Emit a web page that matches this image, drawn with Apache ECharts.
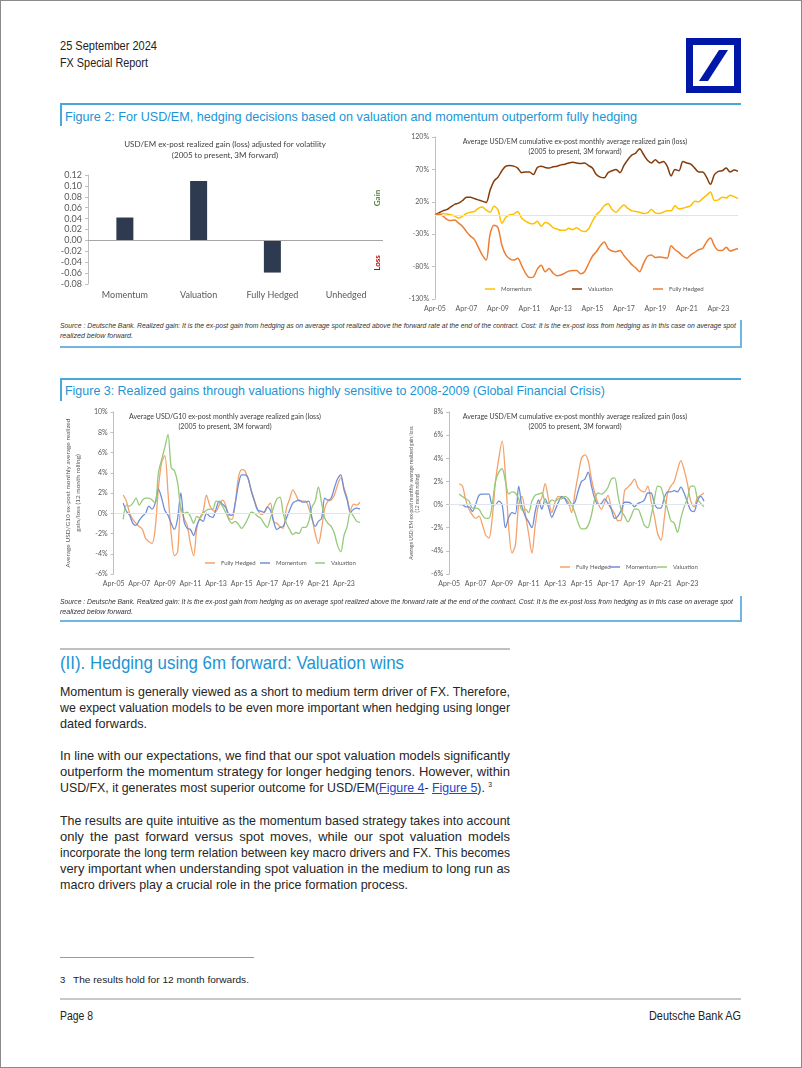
<!DOCTYPE html>
<html><head><meta charset="utf-8">
<script src="https://cdn.jsdelivr.net/npm/echarts@6.0.0/dist/echarts.min.js"></script>
<style>
html,body{margin:0;padding:0;background:#fff;}
body{width:802px;height:1068px;position:relative;overflow:hidden;font-family:"Liberation Sans",Arial,sans-serif;color:#222;}
.t{position:absolute;white-space:nowrap;transform-origin:0 50%;}
.ln{position:absolute;}
.chart{position:absolute;}
.pl{position:absolute;left:60px;white-space:nowrap;font-size:13px;line-height:16px;height:16px;color:#262626;transform-origin:0 50%;}
.lk{color:#2344c8;text-decoration:underline;}
.sup{font-size:7px;line-height:0;position:relative;top:-5px;}
</style></head><body>
<div style="position:absolute;left:0;top:0;width:802px;height:1068px;box-sizing:border-box;border:1px solid #8a8a8a;"></div>

<div class="t" data-w="97" style="left:60px;top:39px;font-size:12px;line-height:14px;">25 September 2024</div>
<div class="t" data-w="88" style="left:60px;top:56px;font-size:12px;line-height:14px;">FX Special Report</div>
<svg style="position:absolute;left:686px;top:38px" width="55" height="55" viewBox="0 0 55 55">
  <rect x="0" y="0" width="55" height="55" fill="#0018a8"/>
  <rect x="7" y="7" width="41" height="41" fill="#fff"/>
  <polygon points="13,43 22,43 42,12 33,12" fill="#0018a8"/>
</svg>

<!-- Figure 2 frame -->
<div class="ln" style="left:60px;top:103px;width:681px;height:1.5px;background:#4aa7dc;"></div>
<div class="ln" style="left:60px;top:103px;width:2px;height:23px;background:#4aa7dc;"></div>
<div class="t" data-w="572" style="left:65px;top:109px;font-size:13px;line-height:16px;color:#1b95d4;">Figure 2: For USD/EM, hedging decisions based on valuation and momentum outperform fully hedging</div>
<div id="c1" class="chart" style="left:55px;top:130px;width:340px;height:180px;"></div>
<div id="c2" class="chart" style="left:395px;top:125px;width:350px;height:195px;"></div>
<div class="t" data-w="676" style="left:60px;top:322px;font-size:7px;line-height:8px;font-style:italic;color:#333;">Source : Deutsche Bank. Realized gain: It is the ex-post gain from hedging as on average spot realized above the forward rate at the end of the contract. Cost: It is the ex-post loss from hedging as in this case on average spot</div>
<div class="t" data-w="73" style="left:60px;top:332px;font-size:7px;line-height:8px;font-style:italic;color:#333;">realized below forward.</div>
<div class="ln" style="left:60px;top:346px;width:682px;height:2px;background:#6fb7e3;"></div>
<div class="ln" style="left:740px;top:320px;width:2px;height:28px;background:#6fb7e3;"></div>

<!-- Figure 3 frame -->
<div class="ln" style="left:60px;top:378px;width:681px;height:1.5px;background:#4aa7dc;"></div>
<div class="ln" style="left:60px;top:378px;width:2px;height:23px;background:#4aa7dc;"></div>
<div class="t" data-w="540" style="left:65px;top:383px;font-size:13px;line-height:16px;color:#1b95d4;">Figure 3: Realized gains through valuations highly sensitive to 2008-2009 (Global Financial Crisis)</div>
<div id="c3" class="chart" style="left:55px;top:400px;width:340px;height:200px;"></div>
<div id="c4" class="chart" style="left:400px;top:400px;width:345px;height:200px;"></div>
<div class="t" data-w="673" style="left:60px;top:598px;font-size:7px;line-height:8px;font-style:italic;color:#333;">Source : Deutsche Bank. Realized gain: It is the ex-post gain from hedging as on average spot realized above the forward rate at the end of the contract. Cost: It is the ex-post loss from hedging as in this case on average spot</div>
<div class="t" data-w="73" style="left:60px;top:608px;font-size:7px;line-height:8px;font-style:italic;color:#333;">realized below forward.</div>
<div class="ln" style="left:60px;top:620px;width:682px;height:2px;background:#6fb7e3;"></div>
<div class="ln" style="left:740px;top:596px;width:2px;height:26px;background:#6fb7e3;"></div>

<!-- Section -->
<div class="ln" style="left:60px;top:648px;width:450px;height:2px;background:#c0c0c0;"></div>
<div class="t" data-w="344" style="left:60px;top:651px;font-size:19px;line-height:24px;color:#1b95d4;">(II). Hedging using 6m forward: Valuation wins</div>

<div class="pl" data-w="450" style="top:683.5px;">Momentum is generally viewed as a short to medium term driver of FX. Therefore,</div>
<div class="pl" data-w="450" style="top:699.6px;">we expect valuation models to be even more important when hedging using longer</div>
<div class="pl" data-w="87" style="top:715.5px;">dated forwards.</div>

<div class="pl" data-w="450" style="top:748px;">In line with our expectations, we find that our spot valuation models significantly</div>
<div class="pl" data-w="450" style="top:764px;">outperform the momentum strategy for longer hedging tenors. However, within</div>
<div class="pl" data-w="432" style="top:780px;">USD/FX, it generates most superior outcome for USD/EM(<span class="lk">Figure 4</span>- <span class="lk">Figure 5</span>). <span class="sup">3</span></div>

<div class="pl" data-w="450" style="top:812.5px;">The results are quite intuitive as the momentum based strategy takes into account</div>
<div class="pl" data-w="450" style="top:828.7px;">only the past forward versus spot moves, while our spot valuation models</div>
<div class="pl" data-w="450" style="top:844.7px;">incorporate the long term relation between key macro drivers and FX. This becomes</div>
<div class="pl" data-w="450" style="top:861px;">very important when understanding spot valuation in the medium to long run as</div>
<div class="pl" data-w="348" style="top:877px;">macro drivers play a crucial role in the price formation process.</div>

<!-- Footnote & footer -->
<div class="ln" style="left:60px;top:957px;width:194px;height:1px;background:#9a9a9a;"></div>
<div class="t" style="left:60px;top:974px;font-size:9.5px;line-height:12px;">3</div>
<div class="t" data-w="176" style="left:73px;top:974px;font-size:9.5px;line-height:12px;">The results hold for 12 month forwards.</div>
<div class="ln" style="left:60px;top:998px;width:681px;height:1.5px;background:#c8c8c8;"></div>
<div class="t" data-w="33" style="left:60px;top:1009px;font-size:12px;line-height:14px;">Page 8</div>
<div class="t" data-w="92" style="left:649px;top:1009px;font-size:12px;line-height:14px;">Deutsche Bank AG</div>

<script>
// ---------- DATA ----------
const barCategories = ['Momentum', 'Valuation', 'Fully Hedged', 'Unhedged'];
const barValues = [0.042, 0.109, -0.059, 0];

// quarterly axis Apr-05 .. Jul-24
const quarterLabels = [];
(function () {
  const mn = ['Jan', 'Apr', 'Jul', 'Oct'];
  let y = 5, q = 1;
  for (let i = 0; i < 78; i++) {
    quarterLabels.push(mn[q] + '-' + (y < 10 ? '0' : '') + y);
    q++; if (q === 4) { q = 0; y++; }
  }
})();

// Figure 2 right: cumulative USD/EM (%)
const emCumMomentum = [0,1,2,1,0,-2,-5,-2,2,4, 5,10,12,7,4,13,8,-13,-4,0, 1,5,-5,-10,-13,-14,-10,-18,-12,-14,
  -20,-22,-24,-24,-21,-23,-20,-24,-26,-22, -10,0,6,14,17,8,4,10,15,10, 6,5,4,2,3,8,3,2,4,6,
  6,14,9,10,12,14,21,20,25,30, 35,22,23,27,26,30,28,25];
const emCumValuation = [0,3,6,8,12,16,18,22,27,27, 25,23,21,19,38,52,58,68,75,76, 75,72,65,66,66,62,73,75,73,72,
  74,75,77,78,80,81,80,79,80,76, 72,62,58,57,65,68,70,65,76,85, 92,95,102,93,84,80,85,80,82,75,
  60,70,68,82,80,78,72,66,66,58, 47,62,67,68,72,66,69,67];
const emCumFullyHedged = [0,1,-2,-7,-9,-8,-13,-18,-26,-33, -38,-50,-62,-70,-30,-16,-20,-47,-62,-68,
  -70,-67,-78,-90,-97,-96,-84,-78,-88,-83, -90,-94,-93,-90,-87,-86,-86,-91,-88,-76,
  -64,-57,-48,-42,-52,-56,-57,-55,-63,-70, -77,-82,-88,-75,-64,-62,-66,-65,-66,-67,
  -48,-54,-58,-64,-67,-62,-58,-54,-52,-42, -36,-48,-55,-55,-50,-56,-54,-52];

// Figure 3 (12m rolling, %), values from Jan-06 onward
const g10FullyHedged = [1.8,1.2,0,-0.6,-1.0,-1.3,-1.6,-2.5,-2.8,-3.0, -1.5,2.5,5.0,5.7,2.0,-2.0,-4.2,-3.8,0.5,-0.5,
  -1.2,-3.0,-4.2,-1.5,-0.4,0.2,1.8,0.8,0.3,0.2, 0.8,1.3,0.8,-0.5,-0.6,1.0,3.5,4.3,4.2,3.4,
  2.3,1.3,0.4,-0.1,0,0.6,1.0,-0.8,-1.0,-1.3, -1.5,0.5,1.4,2.3,1.8,1.2,1.2,1.2,0.5,-0.5,
  -2.0,-3.0,-1.5,0.5,1.2,1.3,1.8,2.8,3.5,2.5, 1.5,0.3,0.9,0.8,1.1];
const g10Momentum = [1.0,0.2,-0.2,-1.0,-1.2,-0.7,-0.3,0,0.7,0.4, 1.0,2.4,1.5,0.3,-0.2,-1.0,-1.6,-0.5,2.0,-0.8,
  -1.5,-1.6,-2.2,-1.2,-0.6,-0.8,0,-0.3,-0.4,0.4, 1.2,0.9,0.6,-0.1,-0.2,1.0,2.8,3.8,3.8,3.5,
  2.2,1.2,0.3,0.2,0.1,0.6,0.3,-0.8,-1.6,-1.4, -1.3,-0.5,0.3,1.0,1.2,1.3,1.1,1.1,1.2,-0.5,
  -1.3,-0.8,-0.5,1.5,1.3,1.5,2.5,3.4,3.8,2.3, 1.3,0.1,0.4,0.5,0.4];
const g10Valuation = [-0.6,0.8,0.7,1.0,1.5,0.8,1.3,1.5,1.5,1.3, 1.0,4.0,5.3,6.5,7.8,4.5,4.2,3.0,0.5,0,
  0.1,-0.3,-1.0,-0.3,-0.5,0,0.3,0.4,0.4,1.2, 1.1,0.7,0.1,-0.6,-1.0,-0.8,-1.1,-1.5,-1.1,-0.5,
  0.1,0,-0.3,-0.5,-1.0,-1.4,-0.5,0.6,1.4,1.6, 0,-1.0,-1.6,-2.1,-1.9,-2.0,-1.4,-1.4,-0.8,0.6,
  1.2,2.6,1.0,-0.5,-1.0,-1.3,-2.0,-3.2,-3.8,-2.2, -1.3,0.1,-0.3,-0.8,-0.9];
const emFullyHedged = [1.8,1.6,0.4,-0.4,-0.9,-1.2,-1.0,-1.7,-2.6,-2.9, -1.2,2.0,4.0,5.5,2.5,-2.0,-4.2,-3.5,0,0.7,
  -0.8,-2.5,-4.2,-1.8,0,0.6,1.8,0.5,-0.7,0.2, 0.7,0.6,0.5,0.2,-0.7,1.0,2.6,4.0,4.3,3.8,
  2.2,1.0,0.1,-0.4,0.2,0.8,-0.3,-0.8,-1.4,-1.3, 1.2,1.5,1.8,2.2,1.5,1.2,1.1,1.6,0.3,-1.0,
  -2.5,-3.1,-1.2,1.0,1.6,2.0,3.0,3.8,3.0,1.8, 0.3,-0.2,0.6,0.8,1.0];
const emMomentum = [0,0,-0.2,-0.2,-0.6,0,0.8,0.9,0.9,0.9, 0,0,0.3,0,-2.0,-1.1,-0.7,-0.8,1.6,-0.2,
  -1.0,-1.5,-2.0,-0.6,0.4,-0.4,0.5,-0.2,-1.1,-0.5, 0.2,0.7,0.5,0,0,0.2,1.2,2.0,2.2,2.8,
  1.6,0.5,0,0.1,0.5,0.1,-0.4,-1.2,-1.0,-0.5, 0.2,0.2,0.1,-0.2,0.1,0.2,0.4,1.0,1.0,0.1,
  -0.3,-0.3,0.6,1.1,1.1,1.2,1.1,1.5,1.0,0.2, -0.5,-0.6,0.3,0.7,0.3];
const emValuation = [0.9,0.7,0.5,0.3,-0.3,-0.3,-0.4,-0.9,-1.2,-1.2, 0,2.0,2.8,3.1,2.0,0.9,1.1,1.0,0.5,-0.5,
  -0.4,-0.7,0.3,0.8,0.9,1.0,0.2,0.1,0.4,0.3, 0.5,0.5,0.7,0.5,0,-0.7,-1.6,-2.1,-2.1,-1.8,
  -0.9,0.5,1.0,0.9,1.1,1.5,2.2,2.3,0.8,-0.5, -1.0,-1.5,-1.0,-0.4,-0.4,-1.0,-1.8,-2.0,-1.0,0.4,
  1.6,1.5,0.5,-0.4,-1.4,-1.6,-2.4,-1.2,-0.2,0.5, 1.6,1.6,0.5,0.1,-0.2];
const rollingLead = [null, null, null]; // Apr-05..Oct-05 have no 12m rolling value

// ---------- HELPERS ----------
const FONT = 'Lato, "Liberation Sans", sans-serif';
const GREY = '#595959';
function titleG(x, y, text, size) {
  return { type: 'text', x: x, y: y, silent: true,
    style: { text: text, align: 'center', verticalAlign: 'middle', textAlign: 'center', textVerticalAlign: 'middle',
      fontSize: size, lineHeight: size + 2.5, fill: '#404040', fontFamily: FONT } };
}
function yPct(min, max, interval, size) {
  return { type: 'value', min: min, max: max, interval: interval,
    axisLine: { show: true, lineStyle: { color: '#bfbfbf' } },
    axisTick: { show: true, length: 3, lineStyle: { color: '#bfbfbf' } },
    splitLine: { show: false },
    axisLabel: { formatter: '{value}%', fontSize: size, color: GREY, fontFamily: FONT, margin: 6 } };
}
function xQ(size) {
  return { type: 'category', data: quarterLabels, boundaryGap: false,
    axisLine: { show: false }, axisTick: { show: false },
    axisLabel: { interval: 7, fontSize: size, color: GREY, fontFamily: FONT, margin: 6 } };
}
function ser(name, data, color, width, zero) {
  const s = { name: name, type: 'line', data: data, symbol: 'none', smooth: 0.3,
    lineStyle: { color: color, width: width }, itemStyle: { color: color } };
  if (zero) s.markLine = { silent: true, symbol: ['none', 'none'], label: { show: false },
    lineStyle: { color: zero, width: 1, type: 'solid' }, data: [{ yAxis: 0 }] };
  return s;
}
function leg(name, left, top, size) {
  return { data: [name], left: left, top: top, icon: 'rect', itemWidth: 10, itemHeight: 1.5, padding: 0,
    textStyle: { fontSize: size, color: GREY, fontFamily: FONT, padding: [0, 0, 0, 1] } };
}

// ---------- CHART 1: bars ----------
echarts.init(document.getElementById('c1')).setOption({
  animation: false,
  grid: { left: 33, right: 12, top: 45, bottom: 26 },
  xAxis: { type: 'category', data: barCategories, axisLine: { show: false }, axisTick: { show: false },
    axisLabel: { fontSize: 9, color: GREY, fontFamily: FONT, margin: 7 } },
  yAxis: { type: 'value', min: -0.08, max: 0.12, interval: 0.02,
    axisLine: { show: true, lineStyle: { color: '#bfbfbf' } },
    axisTick: { show: true, length: 3, lineStyle: { color: '#bfbfbf' } },
    splitLine: { show: false },
    axisLabel: { formatter: function (v) { return v.toFixed(2); }, fontSize: 9, color: GREY, fontFamily: FONT, margin: 6 } },
  series: [{ type: 'bar', data: barValues, barWidth: 17, itemStyle: { color: '#2e3a4f' },
    markLine: { silent: true, symbol: ['none', 'none'], label: { show: false },
      lineStyle: { color: '#a6a6a6', width: 1, type: 'solid' }, data: [{ yAxis: 0 }] } }],
  graphic: [
    titleG(170, 20, 'USD/EM ex-post realized gain (loss) adjusted for volatility\n(2005 to present, 3M forward)', 8),
    { type: 'text', x: 322, y: 68, rotation: Math.PI / 2, silent: true,
      style: { text: 'Gain', align: 'center', verticalAlign: 'middle', textAlign: 'center', textVerticalAlign: 'middle', fontSize: 8, fontWeight: 'bold', fill: '#548235', fontFamily: FONT } },
    { type: 'text', x: 322, y: 133, rotation: Math.PI / 2, silent: true,
      style: { text: 'Loss', align: 'center', verticalAlign: 'middle', textAlign: 'center', textVerticalAlign: 'middle', fontSize: 8, fontWeight: 'bold', fill: '#c00000', fontFamily: FONT } }
  ]
});

// ---------- CHART 2: cumulative USD/EM ----------
echarts.init(document.getElementById('c2')).setOption({
  animation: false,
  grid: { left: 40, right: 7, top: 12, bottom: 21 },
  xAxis: xQ(7),
  yAxis: yPct(-130, 120, 50, 7),
  legend: [leg('Momentum', 90, 161, 6), leg('Valuation', 177, 161, 6), leg('Fully Hedged', 258, 161, 6)],
  series: [
    ser('Momentum', emCumMomentum, '#ffc000', 1.5, '#e3e3e3'),
    ser('Valuation', emCumValuation, '#843c0c', 1.5),
    ser('Fully Hedged', emCumFullyHedged, '#ed7d31', 1.5)
  ],
  graphic: [titleG(180, 21.5, 'Average USD/EM cumulative ex-post monthly average realized gain (loss)\n(2005 to present, 3M forward)', 7)]
});

// ---------- CHART 3: USD/G10 rolling ----------
const y3 = yPct(-6, 10, 2, 7);
y3.name = 'Average USD/G10 ex-post monthly average realized\ngain/loss (12 month rolling)';
y3.nameLocation = 'middle'; y3.nameRotate = 90; y3.nameGap = 25;
y3.nameTextStyle = { fontSize: 6.5, lineHeight: 10, color: GREY, fontFamily: FONT, align: 'center' };
echarts.init(document.getElementById('c3')).setOption({
  animation: false,
  grid: { left: 43, right: 35, top: 12, bottom: 26 },
  xAxis: xQ(7),
  yAxis: y3,
  legend: [leg('Fully Hedged', 150, 160, 6), leg('Momentum', 205, 160, 6), leg('Valuation', 260, 160, 6)],
  series: [
    ser('Fully Hedged', rollingLead.concat(g10FullyHedged), '#f4a26b', 1.3, '#dfe5ee'),
    ser('Momentum', rollingLead.concat(g10Momentum), '#6f8fd8', 1.3),
    ser('Valuation', rollingLead.concat(g10Valuation), '#96c97a', 1.3)
  ],
  graphic: [titleG(170, 21.5, 'Average USD/G10 ex-post monthly average realized gain (loss)\n(2005 to present, 3M forward)', 7)]
});

// ---------- CHART 4: USD/EM rolling ----------
const y4 = yPct(-6, 8, 2, 7);
y4.name = 'Average USD/EM ex-post monthly average realized gain/loss\n(12 month rolling)';
y4.nameLocation = 'middle'; y4.nameRotate = 90; y4.nameGap = 22;
y4.nameTextStyle = { fontSize: 5, lineHeight: 6, color: GREY, fontFamily: FONT, align: 'center' };
echarts.init(document.getElementById('c4')).setOption({
  animation: false,
  grid: { left: 43, right: 41, top: 12, bottom: 26 },
  xAxis: xQ(7),
  yAxis: y4,
  legend: [leg('Fully Hedged', 160, 164, 6), leg('Momentum', 210, 164, 6), leg('Valuation', 257, 164, 6)],
  series: [
    ser('Fully Hedged', rollingLead.concat(emFullyHedged), '#f4a26b', 1.3, '#dfe5ee'),
    ser('Momentum', rollingLead.concat(emMomentum), '#6f8fd8', 1.3),
    ser('Valuation', rollingLead.concat(emValuation), '#96c97a', 1.3)
  ],
  graphic: [titleG(175, 21.5, 'Average USD/EM cumulative ex-post monthly average realized gain (loss)\n(2005 to present, 3M forward)', 7)]
});

// ---------- text fitting ----------
document.querySelectorAll('.t[data-w]').forEach(function (el) {
  const target = parseFloat(el.dataset.w);
  const w = el.getBoundingClientRect().width;
  if (w > 0) el.style.transform = 'scaleX(' + (target / w) + ')';
});
document.querySelectorAll('.pl[data-w]').forEach(function (el) {
  const target = parseFloat(el.dataset.w);
  const w = el.getBoundingClientRect().width;
  const n = (el.textContent.match(/ /g) || []).length;
  const diff = target - w;
  if (diff >= 0 && n > 0) el.style.wordSpacing = (diff / n) + 'px';
  else if (w > 0) el.style.transform = 'scaleX(' + (target / w) + ')';
});
</script>
</body></html>
